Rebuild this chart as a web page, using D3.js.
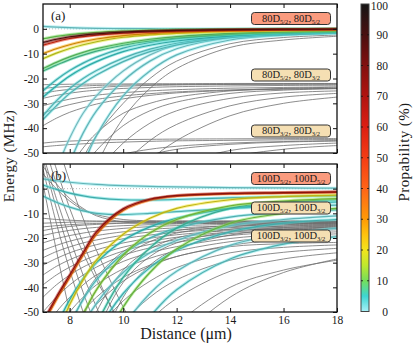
<!DOCTYPE html>
<html>
<head>
<meta charset="utf-8">
<script src="https://cdn.jsdelivr.net/npm/d3@7"></script>
<style>
body { margin: 0; background: #fff; }
svg text { font-family: "Liberation Serif", "Times New Roman", "DejaVu Serif", serif; fill: #1a1a1a; }
</style>
</head>
<body>
<script>
// sample distances (um) shared by every curve
const dist = [7, 7.5, 8, 8.5, 9, 10, 11, 12, 14, 16, 18]

// panel (a): 80D pair potentials (MHz)
const colorA = [
  [1.0, 0.7, 0.45, 0.3, 0.2, 0.1, 0.05, 0.02, 0, 0, 0],
  [-4, -3, -2.3, -1.8, -1.4, -0.9, -0.6, -0.4, -0.2, -0.1, 0],
  [-6.6, -5.1, -3.9, -3.1, -2.5, -1.7, -1.2, -0.9, -0.5, -0.3, -0.2],
  [-5.5, -4.2, -3.2, -2.5, -2.0, -1.3, -0.9, -0.6, -0.3, -0.15, -0.1],
  [-10, -8, -6.4, -5.1, -4.1, -2.7, -1.9, -1.4, -0.8, -0.5, -0.3],
  [-12, -9.8, -7.9, -6.4, -5.2, -3.4, -2.4, -1.8, -1, -0.6, -0.4],
  [-16, -13.5, -11.3, -9.5, -8, -5.8, -4.2, -3.1, -1.8, -1.2, -0.8],
  [-17, -14.6, -12.4, -10.6, -9, -6.6, -4.9, -3.7, -2.2, -1.5, -1.1],
  [-25, -20.5, -16.8, -13.8, -11.4, -7.8, -5.5, -4, -2.3, -1.5, -1],
  [-27.5, -23, -19, -15.8, -13.2, -9.2, -6.6, -4.9, -2.9, -1.9, -1.3],
  [-35, -29, -24, -20, -16.8, -11.8, -8.2, -5.8, -3.2, -2.1, -1.5],
  [-36.5, -31, -26, -22, -18.6, -13.2, -9.2, -6.5, -3.6, -2.4, -1.7],
  [-90, -70, -54, -42, -33, -21, -13, -8, -3.5, -2, -1.4],
  [-75, -57, -44, -34, -27, -17, -10.5, -6.5, -3, -1.8, -1.2],
  [-120, -92, -71, -55, -43, -27, -17, -10.5, -4.5, -2.5, -1.7]
]
const probA = [2, 10, 55, 85, 28, 18, 9, 7, 4, 5, 3, 3, 2, 1, 2]
const grayA = [
  [-22.5, -22.4, -22.3, -22.3, -22.2, -22.2, -22.1, -22.1, -22, -22, -22],
  [-24, -23.5, -23.2, -23, -22.8, -22.6, -22.5, -22.4, -22.3, -22.2, -22.2],
  [-26, -25, -24.4, -24, -23.6, -23.1, -22.8, -22.6, -22.4, -22.3, -22.3],
  [-28, -26.8, -25.9, -25.2, -24.7, -24, -23.6, -23.3, -23, -22.8, -22.7],
  [-31, -29.5, -28.3, -27.4, -26.7, -25.7, -25, -24.5, -23.9, -23.6, -23.4],
  [-34, -32, -30.5, -29.3, -28.4, -27, -26.1, -25.4, -24.6, -24.2, -24],
  [-39, -36, -33.6, -31.8, -30.3, -28.2, -26.8, -25.8, -24.8, -24.3, -24.1],
  [-80, -66, -56, -48, -42, -34, -30, -27.5, -25, -24, -23.5],
  [-95, -78, -65, -56, -49, -39, -33, -29.5, -26, -24.7, -24],
  [-110, -92, -78, -67, -58, -46, -38, -33, -28, -25.8, -25],
  [-130, -110, -93, -80, -70, -55, -45, -38.5, -31, -27.5, -26],
  [-150, -128, -110, -95, -83, -65, -53, -45, -35, -30, -27.5],
  [-46, -45.5, -45.2, -45, -44.8, -44.6, -44.5, -44.4, -44.3, -44.2, -44.2],
  [-47.5, -47, -46.6, -46.3, -46, -45.6, -45.3, -45.1, -44.9, -44.7, -44.6],
  [-80, -70, -63, -58, -54.5, -50.5, -48.5, -47.3, -46, -45.4, -45],
  [-120, -100, -85, -74, -66, -56, -51, -48.5, -46.5, -45.6, -45.2],
  [-150, -130, -112, -98, -87, -71, -61, -55, -49, -47, -46],
  [-200, -170, -145, -125, -109, -86, -71, -61.5, -52, -48.5, -47],
  [-100, -80, -64, -52, -43, -30, -20, -13, -6, -3.5, -2.5],
  [-140, -110, -87, -69, -55, -36, -24, -16, -7.5, -4.5, -3]
]

// panel (b): 100D pair potentials (MHz)
const colorB = [
  [4, 3.2, 2.6, 2.1, 1.7, 1.2, 0.9, 0.7, 0.4, 0.3, 0.2],
  [1.5, -0.3, -1.8, -2.9, -3.7, -4.5, -4.6, -4.4, -3.7, -3.2, -2.9],
  [-3, -5.5, -7.5, -9, -10, -10.5, -10, -9.3, -8, -7.2, -6.7],
  [-55, -45, -36, -27, -18.5, -8.8, -4.6, -3, -2.1, -1.8, -1.5],
  [-54, -44, -35, -26, -17.5, -8.2, -4.3, -2.8, -1.9, -1.6, -1.3],
  [-75, -60, -47, -37, -29, -18.5, -12, -8, -4.5, -3.2, -2.6],
  [-95, -78, -63, -51, -41, -27, -18, -12.5, -7, -5, -4],
  [-140, -118, -98, -82, -69, -48, -34, -24.5, -14, -10, -8],
  [-70, -56, -45, -36.5, -30, -21, -15.5, -12, -8, -6.3, -5.4],
  [-85, -68, -55, -45, -37, -26.5, -20, -16, -11.5, -9.6, -8.6],
  [-100, -82, -67, -55.5, -46.5, -34, -26, -21, -15, -12.5, -11],
  [-120, -100, -83, -69.5, -58.5, -42.5, -32, -25, -17.5, -14, -12.5],
  [-150, -126, -106, -89.5, -76, -56, -42.5, -33.5, -23, -18.5, -16],
  [-180, -152, -128, -108, -92, -68, -52, -41, -28.5, -22.5, -19.5],
  [-130, -105, -85, -68, -55, -36, -24, -16, -8, -5.5, -4.5]
]
const probB = [2, 4, 3, 35, 70, 20, 12, 11, 5, 3, 2, 4, 2, 3, 6]
const grayB = [
  [-12, -12.5, -12.8, -13, -13.1, -13.2, -13.2, -13.2, -13.2, -13.2, -13.2],
  [-14, -13.8, -13.6, -13.5, -13.4, -13.3, -13.3, -13.3, -13.3, -13.3, -13.3],
  [-15.5, -15, -14.6, -14.3, -14.1, -13.9, -13.8, -13.7, -13.6, -13.6, -13.6],
  [-17, -16, -15.3, -14.8, -14.5, -14, -13.8, -13.7, -13.6, -13.5, -13.5],
  [-19, -17.8, -16.9, -16.2, -15.7, -15, -14.6, -14.3, -14, -13.8, -13.7],
  [-22, -20.3, -19, -18, -17.2, -16.1, -15.4, -15, -14.5, -14.2, -14],
  [-25, -23, -21.3, -20, -19, -17.5, -16.5, -15.9, -15.1, -14.7, -14.5],
  [-28, -25.5, -23.6, -22, -20.8, -18.9, -17.6, -16.8, -15.8, -15.2, -14.9],
  [-31, -28.3, -26, -24.2, -22.7, -20.3, -18.8, -17.7, -16.4, -15.7, -15.3],
  [-35, -31.5, -28.8, -26.6, -24.8, -22, -20.1, -18.7, -17, -16.1, -15.6],
  [-39, -35, -31.8, -29.2, -27, -23.7, -21.4, -19.7, -17.6, -16.5, -15.9],
  [-44, -39, -35, -31.8, -29.3, -25.3, -22.6, -20.7, -18.2, -16.9, -16.2],
  [-50, -44, -39, -35, -31.8, -27, -24, -21.8, -19, -17.5, -16.7],
  [-58, -50, -44, -39, -35, -29.5, -26, -23.5, -20.2, -18.5, -17.5],
  [-68, -58, -50, -44, -39, -32.5, -28.2, -25.3, -21.5, -19.5, -18.3],
  [-80, -68, -58, -50, -44, -36, -31, -27.5, -23, -20.5, -19.2],
  [-100, -75, -57, -44.5, -36, -25.5, -20, -17, -15, -14.2, -13.9],
  [-120, -90, -68, -52, -41, -28, -21.5, -18, -15.5, -14.6, -14.2],
  [-150, -112, -84, -64, -50, -33, -24.5, -20, -16.5, -15.2, -14.6],
  [-180, -135, -101, -77, -59, -38, -27.5, -22, -17.5, -15.8, -15],
  [-210, -160, -120, -91, -70, -44, -31, -24.5, -18.8, -16.5, -15.5],
  [6, 0, -5, -8.5, -10.5, -12.5, -13, -13.1, -13.1, -13.1, -13.1],
  [9, 2, -4, -8, -11, -13.5, -14, -14.1, -14.1, -14.1, -14.1],
  [2, -25, -50, -72, -92, -130, -165, -195, -240, -270, -290],
  [8, -14, -33, -50, -66, -95, -120, -140, -170, -190, -200],
  [12, -8, -26, -42, -56, -80, -100, -116, -140, -155, -165],
  [14, -4, -20, -35, -48, -72, -92, -108, -130, -145, -155],
  [20, 2, -13, -26, -37, -56, -72, -85, -104, -116, -124],
  [25, 8, -8, -22, -35, -58, -76, -90, -110, -122, -130],
  [40, 20, 3, -12, -25, -48, -68, -85, -110, -130, -140],
  [-90, -75, -63, -54, -47, -37.5, -31.5, -27.5, -23.5, -22.3, -21.8],
  [-110, -92, -78, -67, -58, -45.5, -37.5, -32, -26, -23.8, -22.8],
  [-130, -110, -94, -81, -70.5, -54.5, -44, -37, -29, -25.8, -24.2],
  [-160, -136, -116, -100, -87, -67, -53.5, -44.5, -33.5, -28.5, -26],
  [-200, -170, -146, -126, -109, -84, -67, -55, -40, -33, -29],
  [-250, -210, -178, -152, -131, -100, -78, -62.5, -44, -34, -28.5]
]

// pair-state labels: n, j1, j2
const labelsA = [[80, '5/2', '5/2'], [80, '5/2', '3/2'], [80, '3/2', '3/2']]
const labelsB = [[100, '5/2', '5/2'], [100, '5/2', '3/2'], [100, '3/2', '3/2']]

const xTicks = [8, 10, 12, 14, 16, 18]
const yTicks = [0, -10, -20, -30, -40, -50]
const cbTicks = [0, 10, 20, 30, 40, 50, 60, 70, 80, 90, 100]

const serif = '"Liberation Serif", "Times New Roman", "DejaVu Serif", serif'

const cmap = d3.scaleLinear()
  .domain([0, 5, 10, 15, 20, 25, 30, 40, 50, 60, 70, 80, 90, 100])
  .range(['#a8f0f8', '#3ed6d2', '#74de5a', '#bfe82e', '#f2e41c', '#ffc20e', '#ff9a06', '#ff6418',
          '#f43c14', '#dc1e12', '#b01410', '#821010', '#4a1010', '#151515'])

const svg = d3.select('body').append('svg').attr('width', 415).attr('height', 345)
  .attr('font-family', serif)
const x = d3.scaleLinear().domain([7, 18]).range([43, 337])

const panels = [
  {top: 4, bottom: 153, gray: grayA, col: colorA, prob: probA, tag: '(a)', labels: labelsA,
   boxY: [18.5, 75, 131], fills: ['#fa9b7e', '#f5dfb3', '#f5dfb3']},
  {top: 164, bottom: 312, gray: grayB, col: colorB, prob: probB, tag: '(b)', labels: labelsB,
   boxY: [178.5, 208, 236], fills: ['#fa9b7e', '#f5dfb3', '#f5dfb3']}
]

panels.forEach((p, pi) => {
  const y = d3.scaleLinear().domain([-50, 10]).range([p.bottom, p.top])
  const line = d3.line().x((d, i) => x(dist[i])).y(d => y(d)).curve(d3.curveCatmullRom.alpha(0.5))
  const clipId = 'clip' + pi
  svg.append('clipPath').attr('id', clipId).append('rect')
    .attr('x', x(7)).attr('y', p.top).attr('width', x(18) - x(7)).attr('height', p.bottom - p.top)
  const g = svg.append('g').attr('clip-path', `url(#${clipId})`)

  g.append('line')
    .attr('x1', x(7)).attr('x2', x(18)).attr('y1', y(0)).attr('y2', y(0))
    .attr('stroke', '#aaa').attr('stroke-width', 0.8).attr('stroke-dasharray', '1,2')

  g.selectAll('.gray').data(p.gray).enter().append('path')
    .attr('class', 'gray')
    .attr('d', line)
    .attr('fill', 'none').attr('stroke', '#6f6f6f').attr('stroke-width', 0.8)

  const order = d3.range(p.col.length).sort((a, b) => p.prob[a] - p.prob[b])
  order.forEach(i => {
    const c = cmap(p.prob[i])
    g.append('path').attr('d', line(p.col[i]))
      .attr('fill', 'none').attr('stroke', c).attr('stroke-width', 3).attr('stroke-opacity', 0.5)
    g.append('path').attr('d', line(p.col[i]))
      .attr('fill', 'none').attr('stroke', d3.color(c).darker(0.7)).attr('stroke-width', 1.2)
  })

  // state labels
  p.labels.forEach((l, k) => {
    const cy = p.boxY[k]
    svg.append('rect')
      .attr('x', 251.5).attr('y', cy - 6).attr('width', 79).attr('height', 12).attr('rx', 3)
      .attr('fill', p.fills[k]).attr('stroke', '#333').attr('stroke-width', 1)
    const t = svg.append('text').attr('x', 291).attr('y', cy + 3)
      .attr('text-anchor', 'middle').attr('font-size', 10.5)
    t.append('tspan').text(l[0] + 'D')
    t.append('tspan').attr('dy', 2).attr('font-size', 6.5).text(l[1])
    t.append('tspan').attr('dy', -2).text(', ' + l[0] + 'D')
    t.append('tspan').attr('dy', 2).attr('font-size', 6.5).text(l[2])
  })

  svg.append('text').attr('x', 51).attr('y', p.top + 16).attr('font-size', 13).text(p.tag)

  // axes, ticks pointing inward on all sides
  const yl = svg.append('g').attr('transform', `translate(${x(7)},0)`)
    .call(d3.axisLeft(y).tickValues(yTicks).tickSize(-4).tickSizeOuter(0).tickPadding(4).tickFormat(d => String(d)))
  const yr = svg.append('g').attr('transform', `translate(${x(18)},0)`)
    .call(d3.axisRight(y).tickValues(yTicks).tickSize(-4).tickSizeOuter(0).tickFormat(''))
  const xt = svg.append('g').attr('transform', `translate(0,${p.top})`)
    .call(d3.axisTop(x).tickValues(xTicks).tickSize(-4).tickSizeOuter(0).tickFormat(''))
  const xb = svg.append('g').attr('transform', `translate(0,${p.bottom})`)
    .call(d3.axisBottom(x).tickValues(xTicks).tickSize(-4).tickSizeOuter(0).tickPadding(4)
      .tickFormat(pi === 1 ? d => String(d) : ''))
  ;[yl, yr, xt, xb].forEach(a => {
    a.attr('font-family', serif).attr('font-size', 11.5)
    a.select('.domain').remove()
    a.selectAll('line').attr('stroke', '#111').attr('stroke-width', 1)
  })

  svg.append('rect').attr('x', x(7)).attr('y', p.top)
    .attr('width', x(18) - x(7)).attr('height', p.bottom - p.top)
    .attr('fill', 'none').attr('stroke', '#111').attr('stroke-width', 1.3)
})

// axis titles
svg.append('text').attr('transform', 'translate(14,156) rotate(-90)')
  .attr('text-anchor', 'middle').attr('font-size', 15).attr('letter-spacing', 0.4).text('Energy (MHz)')
svg.append('text').attr('x', 186).attr('y', 339)
  .attr('text-anchor', 'middle').attr('font-size', 16).text('Distance (μm)')

// colorbar
const cb = d3.scaleLinear().domain([0, 100]).range([311.5, 4])
const grad = svg.append('defs').append('linearGradient').attr('id', 'cbar')
  .attr('x1', 0).attr('y1', 1).attr('x2', 0).attr('y2', 0)
grad.selectAll('stop').data(d3.range(0, 101, 2.5)).enter().append('stop')
  .attr('offset', d => d + '%').attr('stop-color', d => cmap(d))
svg.append('rect').attr('x', 361).attr('y', cb(100)).attr('width', 8).attr('height', cb(0) - cb(100))
  .attr('fill', 'url(#cbar)').attr('stroke', '#444').attr('stroke-width', 1)
svg.selectAll('.cbt').data(cbTicks.slice(1, -1)).enter().append('line')
  .attr('x1', 361).attr('x2', 363).attr('y1', d => cb(d)).attr('y2', d => cb(d))
  .attr('stroke', '#111').attr('stroke-width', 0.8)
svg.selectAll('.cbt2').data(cbTicks.slice(1, -1)).enter().append('line')
  .attr('x1', 367).attr('x2', 369).attr('y1', d => cb(d)).attr('y2', d => cb(d))
  .attr('stroke', '#111').attr('stroke-width', 0.8)
svg.selectAll('.cbl').data(cbTicks).enter().append('text')
  .attr('x', 388).attr('y', d => Math.max(cb(d) + 4, 10)).attr('text-anchor', 'end').attr('font-size', 11.5)
  .text(d => d)
svg.append('text').attr('transform', 'translate(409,152) rotate(-90)')
  .attr('text-anchor', 'middle').attr('font-size', 15).attr('letter-spacing', 0.4).text('Propability (%)')
</script>
</body>
</html>
